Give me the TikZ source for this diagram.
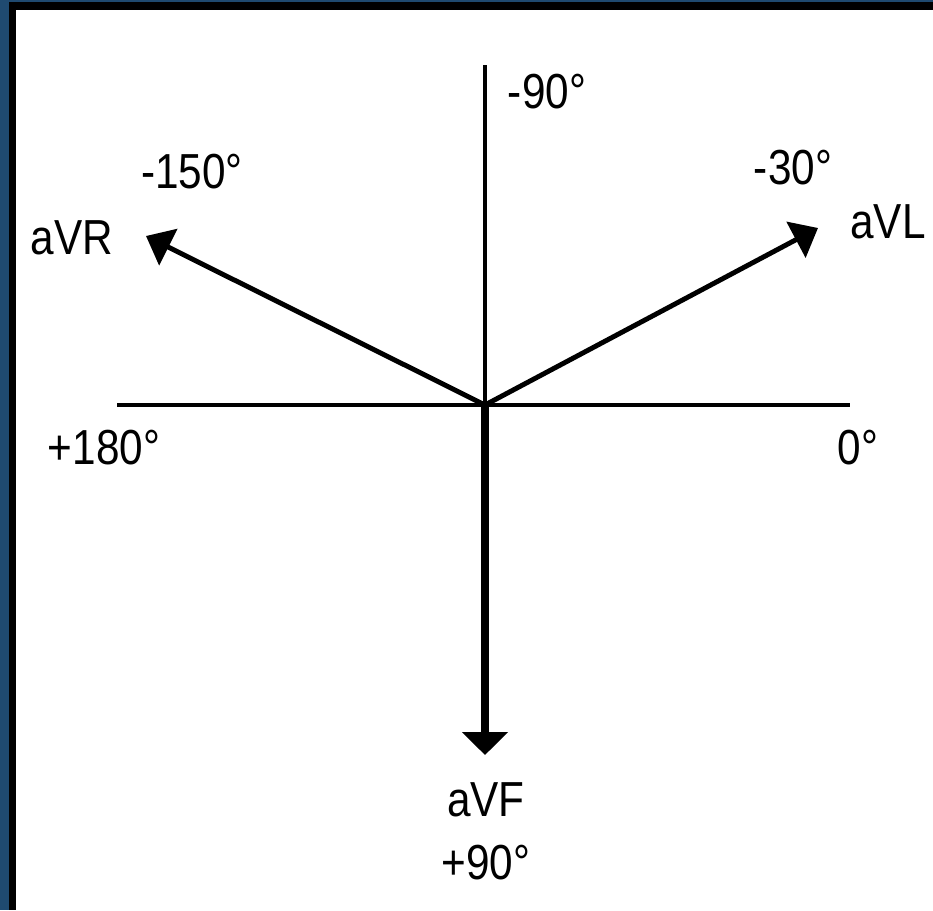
\documentclass[tikz,border=0pt]{standalone}
\usepackage{fontspec}
\setmainfont{Liberation Sans}[FakeStretch=0.86]
\usepackage{xcolor}
\usepackage{tikz}
\usetikzlibrary{arrows.meta,positioning}
\definecolor{frameblue}{HTML}{1F4A70}

\begin{document}
\begin{tikzpicture}[
    x=0.02cm, y=-0.02cm,
    axis/.style={line width=2.3pt},
    lead/.style={line width=2.8pt, -{Triangle[length=0.5cm, width=0.8cm]}},
    label/.style={font=\fontsize{28}{30}\selectfont, inner sep=0pt}]
    % frame
    \fill[frameblue] (0,0) rectangle (933,910);
    \fill[black] (9,2) rectangle (933,910);
    \fill[white] (16,10) rectangle (933,910);
    \useasboundingbox (0,0) rectangle (933,910);
    % axes
    \coordinate (O) at (485,405);
    \coordinate (top) at (485,65);
    \coordinate (left) at (117,405);
    \coordinate (right) at (850,405);
    \coordinate (vr) at (146,236);
    \coordinate (vl) at (818,228);
    \coordinate (vf) at (485,755);
    \draw[axis] (left) -- (right);
    \draw[axis] (top) -- (O);
    % leads
    \draw[lead] (O) -- (vr);
    \draw[lead] (O) -- (vl);
    \draw[line width=4.5pt, -{Triangle[length=0.46cm, width=0.9cm]}] (O) -- (vf);
    % labels
    \node[label] (m90) at (547,92) {-90°};
    \node[label] (m150) at (192,172) {-150°};
    \node[label] (avr) at (72,238) {aVR};
    \node[label] (m30) at (793,168) {-30°};
    \node[label] (avl) at (888,222) {aVL};
    \node[label] (p180) at (104,448) {+180°};
    \node[label] (zero) at (858,448) {0°};
    \node[label] (avf) at (486,800) {aVF};
    \node[label] (p90) at (486,863) {+90°};
\end{tikzpicture}
\end{document}
